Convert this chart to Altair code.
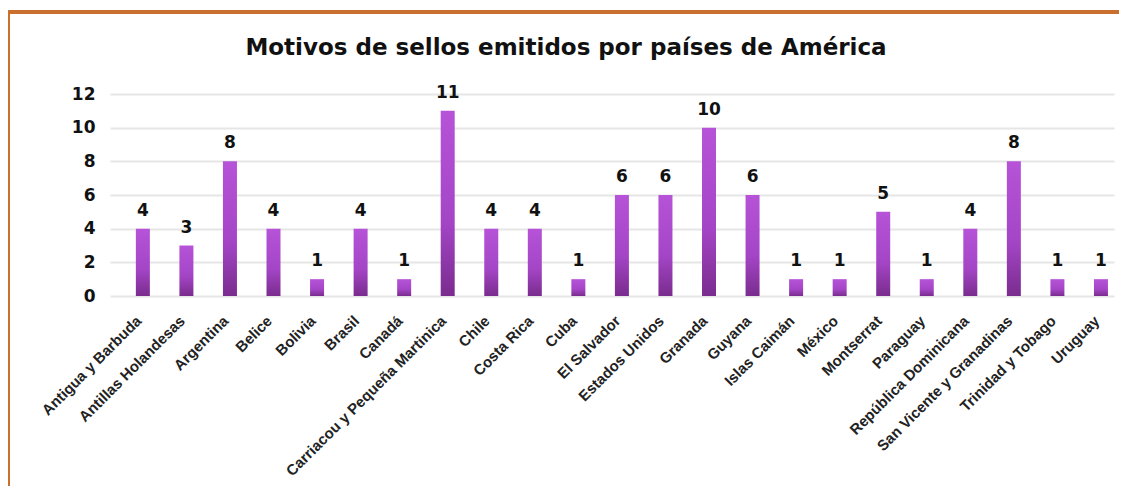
import altair as alt
import pandas as pd

paises = ["Antigua y Barbuda", "Antillas Holandesas", "Argentina", "Belice", "Bolivia",
          "Brasil", "Canadá", "Carriacou y Pequeña Martinica", "Chile", "Costa Rica",
          "Cuba", "El Salvador", "Estados Unidos", "Granada", "Guyana", "Islas Caimán",
          "México", "Montserrat", "Paraguay", "República Dominicana",
          "San Vicente y Granadinas", "Trinidad y Tobago", "Uruguay"]
motivos = [4, 3, 8, 4, 1, 4, 1, 11, 4, 4, 1, 6, 6, 10, 6, 1, 1, 5, 1, 4, 8, 1, 1]
y_ticks = [0, 2, 4, 6, 8, 10, 12]

df = pd.DataFrame({"pais": paises, "motivos": motivos})

W, H = 1004, 202
PAD_L, PAD_T = 102, 86

x = alt.X("pais:N", sort=paises, title=None,
          scale=alt.Scale(paddingInner=0.68, paddingOuter=0.367, align=0.81),
          axis=alt.Axis(labelAngle=-45, labelAlign="right", labelBaseline="top",
                        labelFont="Liberation Sans", labelFontSize=15,
                        labelFontWeight="bold", labelColor="#222222",
                        labelPadding=17, labelOffset=-9, ticks=False, domain=False,
                        grid=False, labelOverlap=False, labelLimit=400))
y = alt.Y("motivos:Q", title=None,
          scale=alt.Scale(domain=[0, 12], nice=False),
          axis=alt.Axis(values=y_ticks, tickCount=7, labelFont="DejaVu Sans", labelFontSize=17,
                        labelFontWeight="bold", labelColor="#111111",
                        labelPadding=15, ticks=False, domain=False, labelOverlap=False,
                        gridColor="#E6E6E6", gridWidth=2))

grad = alt.Gradient(gradient="linear", x1=0, x2=0, y1=0, y2=1,
                    stops=[alt.GradientStop(color="#B653D8", offset=0),
                           alt.GradientStop(color="#A445C6", offset=0.6),
                           alt.GradientStop(color="#7A2C8E", offset=1)])

base = alt.Chart(df)
bars = base.mark_bar(color=grad, size=14).encode(x=x, y=y)
labels = base.mark_text(dy=-9, baseline="bottom", font="DejaVu Sans", fontSize=17,
                        fontWeight="bold", color="#111111").encode(
    x=x, y=y, text="motivos:Q")

border_top = base.mark_rule(color="#C9702F", strokeWidth=3).encode(
    x=alt.value(-PAD_L + 0.5), x2=alt.value(W + 40), y=alt.value(-PAD_T + 4))
border_left = base.mark_rule(color="#C9702F", strokeWidth=3).encode(
    x=alt.value(-PAD_L + 0.5), y=alt.value(-PAD_T + 4), y2=alt.value(H + 220))

chart = alt.layer(border_top, border_left, bars, labels).properties(
    width=W, height=H,
    title=alt.TitleParams("Motivos de sellos emitidos por países de América",
                          font="DejaVu Sans", fontSize=23, fontWeight="bold",
                          color="#111111", anchor="middle", offset=-49, dx=-46),
    autosize=alt.AutoSizeParams(type="none"),
    padding={"left": PAD_L, "top": PAD_T, "right": 5, "bottom": 190},
    background="white",
).configure_view(stroke=None)

chart.save("out.html", embed_options={"renderer": "svg", "actions": False})
